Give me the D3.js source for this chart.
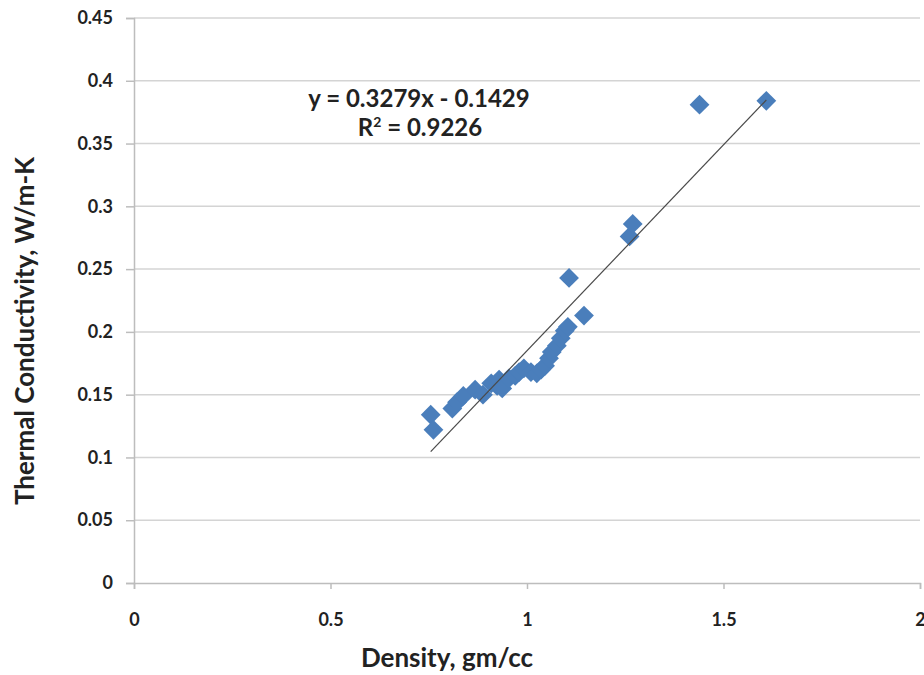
<!DOCTYPE html>
<html>
<head>
<meta charset="utf-8">
<script src="https://cdn.jsdelivr.net/npm/d3@7"></script>
<style>
  html, body { margin: 0; padding: 0; background: #fff; }
  svg { display: block; font-family: Lato, "Open Sans", "Liberation Sans", sans-serif; }
</style>
</head>
<body>
<svg id="chart" width="924" height="675"></svg>
<script>
// Density (gm/cc) of each sample
const density = [
  0.755, 0.762, 0.810, 0.822, 0.838, 0.868, 0.888, 0.909, 0.924, 0.929,
  0.937, 0.954, 0.970, 0.980, 0.992, 1.010, 1.025, 1.036, 1.046, 1.056,
  1.063, 1.076, 1.086, 1.096, 1.104, 1.145, 1.107, 1.261, 1.269, 1.439,
  1.609
];
// Thermal conductivity (W/m-K) of each sample
const conductivity = [
  0.134, 0.122, 0.139, 0.144, 0.149, 0.154, 0.150, 0.159, 0.157, 0.162,
  0.155, 0.163, 0.165, 0.168, 0.171, 0.168, 0.167, 0.170, 0.173, 0.179,
  0.184, 0.189, 0.195, 0.201, 0.204, 0.213, 0.243, 0.276, 0.286, 0.381,
  0.384
];
// Linear trend line coefficients
const slope = 0.3279;
const intercept = -0.1429;
const rSquared = 0.9226;

const xTicks = [0, 0.5, 1, 1.5, 2];
const yTicks = [0, 0.05, 0.1, 0.15, 0.2, 0.25, 0.3, 0.35, 0.4, 0.45];

const svg = d3.select("#chart");
const margin = { left: 134, right: 4, top: 18, bottom: 92 };
const W = 924, H = 675;
const textColor = "#222222";
const axisColor = "#bdbdbd";

const x = d3.scaleLinear().domain([0, 2]).range([margin.left, W - margin.right]);
const y = d3.scaleLinear().domain([0, 0.45]).range([H - margin.bottom, margin.top]);

// horizontal gridlines
svg.append("g")
  .selectAll("line")
  .data(yTicks.filter(d => d > 0))
  .join("line")
  .attr("x1", x(0)).attr("x2", x(2))
  .attr("y1", d => y(d)).attr("y2", d => y(d))
  .attr("stroke", "#d4d4d4").attr("stroke-width", 1.5);

// y axis
const yAxis = svg.append("g")
  .attr("transform", `translate(${x(0)},0)`)
  .call(d3.axisLeft(y).tickValues(yTicks).tickSize(8).tickPadding(13)
    .tickFormat(d => d3.format("~g")(d)));
yAxis.select(".domain").attr("stroke", axisColor).attr("stroke-width", 1.5);
yAxis.selectAll(".tick line").attr("stroke", axisColor).attr("stroke-width", 1.5);
yAxis.selectAll(".tick text")
  .attr("font-size", 18).attr("font-weight", "bold").attr("fill", textColor)
  .attr("font-family", "Lato, 'Open Sans', sans-serif");

// x axis
const xAxis = svg.append("g")
  .attr("transform", `translate(0,${y(0)})`)
  .call(d3.axisBottom(x).tickValues(xTicks).tickSize(6).tickPadding(24)
    .tickFormat(d => d3.format("~g")(d)));
xAxis.select(".domain").attr("stroke", axisColor).attr("stroke-width", 1.5);
xAxis.selectAll(".tick line").attr("stroke", axisColor).attr("stroke-width", 1.5);
xAxis.selectAll(".tick text")
  .attr("font-size", 18).attr("font-weight", "bold").attr("fill", textColor)
  .attr("font-family", "Lato, 'Open Sans', sans-serif");

// data markers (diamonds)
const points = density.map((d, i) => ({ x: d, y: conductivity[i] }));
const diamond = d3.symbol().type(d3.symbolDiamond2).size(250);
svg.append("g")
  .selectAll("path")
  .data(points)
  .join("path")
  .attr("d", diamond)
  .attr("transform", d => `translate(${x(d.x)},${y(d.y)})`)
  .attr("fill", "#4a7ebb");

// trend line over the range of the data
const [xMin, xMax] = d3.extent(density);
svg.append("line")
  .attr("x1", x(xMin)).attr("y1", y(slope * xMin + intercept))
  .attr("x2", x(xMax)).attr("y2", y(slope * xMax + intercept))
  .attr("stroke", "#4a4a4a").attr("stroke-width", 1.2);

// trend equation
svg.append("text")
  .attr("x", 419).attr("y", 107)
  .attr("text-anchor", "middle")
  .attr("font-size", 24).attr("font-weight", "bold").attr("fill", textColor)
  .text(`y = ${slope}x - ${Math.abs(intercept)}`);
const r2 = svg.append("text")
  .attr("x", 420).attr("y", 136)
  .attr("text-anchor", "middle")
  .attr("font-size", 24).attr("font-weight", "bold").attr("fill", textColor);
r2.append("tspan").text("R");
r2.append("tspan").attr("font-size", 14).attr("dy", -9).text("2");
r2.append("tspan").attr("dy", 9).text(` = ${rSquared}`);

// axis titles
svg.append("text")
  .attr("x", 447).attr("y", 667)
  .attr("text-anchor", "middle")
  .attr("font-size", 26).attr("font-weight", "bold").attr("fill", textColor)
  .text("Density, gm/cc");

svg.append("text")
  .attr("transform", "translate(34,331) rotate(-90)")
  .attr("text-anchor", "middle")
  .attr("font-size", 26).attr("font-weight", "bold").attr("fill", textColor)
  .text("Thermal Conductivity, W/m-K");
</script>
</body>
</html>
